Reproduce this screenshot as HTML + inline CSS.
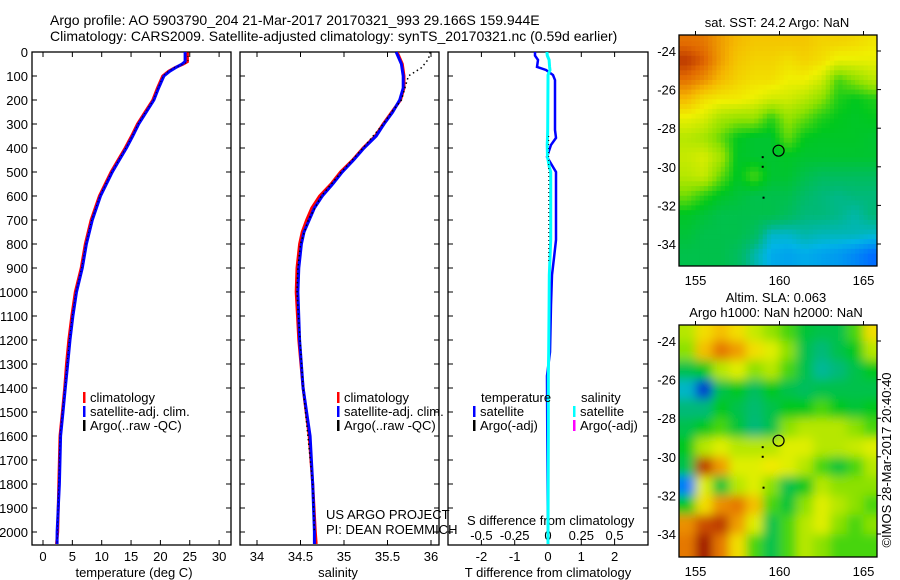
<!DOCTYPE html>
<html><head><meta charset="utf-8"><style>
body{margin:0;background:#fff;}
svg{display:block;font-family:"Liberation Sans",sans-serif;}
text{fill:#000;}
</style></head><body>
<svg id="fig" width="900" height="580" viewBox="0 0 900 580" xmlns="http://www.w3.org/2000/svg">
<defs>
<clipPath id="c1"><rect x="32" y="52" width="199" height="493"/></clipPath>
<clipPath id="c2"><rect x="240" y="52" width="199" height="493"/></clipPath>
<clipPath id="c3"><rect x="448" y="52" width="200" height="493"/></clipPath>
<clipPath id="m1"><rect x="679" y="35" width="198" height="231"/></clipPath>
<clipPath id="m2"><rect x="679" y="325" width="198" height="232"/></clipPath>
<filter id="blur" x="-5%" y="-5%" width="110%" height="110%"><feGaussianBlur stdDeviation="5"/></filter>
</defs>
<g id="root"></g>
</svg>
<script>
// ---------- data ----------
const depthT = [0,40,50,65,80,100,150,200,250,300,350,400,450,500,550,600,700,800,900,1000,1100,1200,1300,1400,1500,1600,1800,2000,2050];
const climT  = [24.6,24.6,23.9,22.5,21.4,20.4,19.5,18.7,17.4,16.1,15.1,14.0,12.8,11.6,10.6,9.6,8.2,7.2,6.5,5.5,4.9,4.4,4.0,3.7,3.3,2.9,2.7,2.5,2.3];
const satT   = [24.2,24.2,23.7,22.6,21.6,20.6,19.7,18.9,17.6,16.3,15.3,14.2,13.0,11.8,10.8,9.8,8.4,7.4,6.7,5.7,5.1,4.6,4.2,3.8,3.4,3.0,2.8,2.4,2.4];
const argoT  = [24.7,24.7,24.0,22.4,21.4,20.5,19.6,18.8,17.5,16.2,15.2,14.1,12.9,11.7,10.7,9.7,8.3,7.3,6.6,5.6,5.0,4.5,4.1,3.75,3.3,2.9,2.7,2.45,2.4];
const depthS = [0,50,100,150,200,250,300,350,400,450,500,550,600,650,700,750,800,900,1000,1200,1400,1600,1800,2000,2050];
const climS  = [35.61,35.67,35.69,35.69,35.65,35.55,35.45,35.36,35.22,35.10,34.96,34.85,34.72,34.63,34.57,34.52,34.49,34.46,34.45,34.48,34.53,34.60,34.64,34.67,34.68];
const satS   = [35.60,35.66,35.68,35.68,35.64,35.56,35.46,35.37,35.23,35.11,34.98,34.87,34.75,34.66,34.60,34.54,34.51,34.48,34.47,34.49,34.53,34.61,34.64,34.66,34.66];
const depthSA= [0,30,66,100,150,200,250,300,400,500,600,700,800,900,1000,1400,1800,2000];
const argoS  = [35.99,35.97,35.89,35.74,35.70,35.66,35.55,35.45,35.22,34.97,34.74,34.59,34.50,34.47,34.46,34.53,34.64,34.66];
const depthD = [0,15,33,62,75,96,117,325,358,387,437,479,500,783,858,929,1054,1250,1350,1600,2050];
const satTdiff = [-0.39,-0.39,-0.30,-0.33,-0.06,0.15,0.21,0.21,0.24,0.09,-0.03,0.15,0.24,0.24,0.18,0.12,0.09,0.06,-0.03,-0.02,0.0];
const satSdiff = [-0.008,-0.005,0.008,0.012,0.015,0.0,0.0,-0.002,-0.004,-0.006,-0.004,0.01,0.02,0.02,0.015,0.01,0.008,0.005,0.002,0.002,0.0];
const depthAD = [350,875];
const argoTdiff = [0.02,0.02];
const depthTicks = [0,100,200,300,400,500,600,700,800,900,1000,1100,1200,1300,1400,1500,1600,1700,1800,1900,2000];
const tempTicks = [0,5,10,15,20,25,30];
const salTicks = [34,34.5,35,35.5,36];
const salTickLabels = ["34","34.5","35","35.5","36"];
const tdTicks = [-2,-1,0,1,2];
const sdTicks = [-0.5,-0.25,0,0.25,0.5];
const sdTickLabels = ["-0.5","-0.25","0","0.25","0.5"];
const lonTicks = [155,160,165];
const latTicks = [-24,-26,-28,-30,-32,-34];
const sstGrid = [
[.86,.85,.8,.76,.74,.74,.74,.74,.72,.72,.71,.69],
[.92,.88,.8,.74,.72,.72,.7,.72,.7,.66,.66,.66],
[.86,.82,.76,.72,.7,.7,.67,.67,.63,.5,.55,.6],
[.76,.7,.68,.68,.66,.63,.63,.6,.55,.47,.45,.47],
[.66,.64,.58,.56,.56,.48,.56,.52,.47,.45,.44,.45],
[.6,.58,.52,.45,.43,.43,.52,.45,.44,.44,.44,.43],
[.62,.64,.58,.44,.43,.43,.44,.43,.43,.43,.43,.43],
[.6,.62,.52,.44,.5,.43,.43,.4,.38,.38,.38,.38],
[.53,.48,.44,.42,.4,.4,.4,.37,.35,.34,.35,.35],
[.44,.42,.4,.4,.4,.4,.38,.35,.35,.34,.32,.35],
[.42,.4,.4,.4,.38,.3,.3,.32,.31,.31,.31,.3],
[.4,.4,.4,.38,.32,.27,.26,.27,.26,.25,.23,.2]];
const slaGrid = [
[.6,.7,.75,.7,.62,.56,.5,.42,.4,.4,.5,.7],
[.55,.75,.85,.8,.7,.65,.55,.4,.35,.4,.45,.6],
[.4,.45,.6,.65,.55,.6,.5,.4,.33,.35,.4,.45],
[.3,.15,.4,.45,.38,.45,.4,.38,.4,.4,.4,.4],
[.35,.35,.45,.4,.36,.4,.45,.45,.5,.45,.42,.45],
[.4,.45,.5,.42,.35,.4,.55,.6,.6,.6,.55,.5],
[.45,.6,.65,.6,.6,.6,.65,.65,.6,.6,.62,.65],
[.4,.92,.8,.65,.65,.68,.65,.6,.5,.42,.5,.6],
[.22,.65,.42,.6,.65,.55,.4,.45,.6,.55,.55,.55],
[.45,.7,.82,.85,.75,.5,.42,.55,.65,.6,.55,.5],
[.82,.9,.92,.8,.65,.4,.5,.6,.65,.55,.5,.55],
[.85,.96,.85,.7,.5,.4,.5,.6,.55,.5,.5,.5]];
const argoLon = [159.944];
const argoLat = [-29.166];

// ---------- helpers ----------
const NS="http://www.w3.org/2000/svg";
const root=document.getElementById('root');
function el(tag,attrs,parent){const e=document.createElementNS(NS,tag);for(const k in attrs)e.setAttribute(k,attrs[k]);(parent||root).appendChild(e);return e;}
function txt(x,y,s,anchor,size){const t=el('text',{x:x,y:y,'font-size':size||13,'text-anchor':anchor||'start'});t.textContent=s;return t;}
const yD = d => 52 + d*0.24;
const xT = v => 43 + v*5.87;
const xS = v => 257 + (v-34)*87;
const xTD = v => 548 + v*33.3;
const xSD = v => 548 + v*133.2;
const xLon = v => 695.5 + (v-155)*16.8;
const yLat1 = v => 51 + (-24 - v)*19.3;
const yLat2 = v => 341 + (-24 - v)*19.3;
function pts(xs,ds,fx){return xs.map((v,i)=>fx(v).toFixed(1)+','+yD(ds[i]).toFixed(1)).join(' ');}
function cmap(v){
  const stops=[[0.1,[0,0,160]],[0.2,[0,110,255]],[0.28,[0,180,230]],[0.35,[0,185,120]],[0.45,[0,200,30]],[0.55,[140,225,0]],[0.67,[240,240,0]],[0.77,[245,180,0]],[0.87,[225,105,0]],[0.96,[160,20,0]]];
  if(v<=stops[0][0])return 'rgb('+stops[0][1]+')';
  for(let i=1;i<stops.length;i++){if(v<=stops[i][0]){const a=stops[i-1],b=stops[i],f=(v-a[0])/(b[0]-a[0]);return 'rgb('+a[1].map((c,j)=>Math.round(c+(b[1][j]-c)*f)).join(',')+')';}}
  return 'rgb('+stops[stops.length-1][1]+')';
}
function sample(grid,fr,fc){
  const r0=Math.max(0,Math.min(11,Math.floor(fr))),c0=Math.max(0,Math.min(11,Math.floor(fc)));
  const r1=Math.min(11,r0+1),c1=Math.min(11,c0+1);
  const a=Math.max(0,Math.min(1,fr-r0)),b=Math.max(0,Math.min(1,fc-c0));
  return grid[r0][c0]*(1-a)*(1-b)+grid[r0][c1]*(1-a)*b+grid[r1][c0]*a*(1-b)+grid[r1][c1]*a*b;
}

// ---------- titles ----------
let t;
t=txt(50,25,'Argo profile: AO 5903790_204 21-Mar-2017 20170321_993 29.166S 159.944E','start',14);

t=txt(50,41,'Climatology: CARS2009. Satellite-adjusted climatology: synTS_20170321.nc (0.59d earlier)','start',14);


// ---------- panel frames ----------
function frame(x,w,name){
  const r=el('rect',{x:x,y:52,width:w,height:493,fill:'none',stroke:'#000','stroke-width':1.3});
  
  
  depthTicks.forEach(d=>{el('line',{x1:x,x2:x+5,y1:yD(d),y2:yD(d),stroke:'#000'});el('line',{x1:x+w-5,x2:x+w,y1:yD(d),y2:yD(d),stroke:'#000'});});
}
frame(32,199,'temperature-panel');
frame(240,199,'salinity-panel');
frame(448,200,'difference-panel');
depthTicks.forEach(d=>{const l=txt(28,yD(d)+5,String(d),'end',13);

});
tempTicks.forEach(v=>{el('line',{x1:xT(v),x2:xT(v),y1:52,y2:57,stroke:'#000'});el('line',{x1:xT(v),x2:xT(v),y1:540,y2:545,stroke:'#000'});
const l=txt(xT(v),561,String(v),'middle',13);

});
salTicks.forEach((v,i)=>{el('line',{x1:xS(v),x2:xS(v),y1:52,y2:57,stroke:'#000'});el('line',{x1:xS(v),x2:xS(v),y1:540,y2:545,stroke:'#000'});
const l=txt(xS(v),561,salTickLabels[i],'middle',13);

});
tdTicks.forEach(v=>{if(v!==0){el('line',{x1:xTD(v),x2:xTD(v),y1:52,y2:57,stroke:'#000'});el('line',{x1:xTD(v),x2:xTD(v),y1:540,y2:545,stroke:'#000'});}
const l=txt(xTD(v),561,String(v),'middle',13);

});
sdTicks.forEach((v,i)=>{const l=txt(xSD(v),540,sdTickLabels[i],'middle',13);

});
t=txt(134,577,'temperature (deg C)','middle',13);
t=txt(338,577,'salinity','middle',13);
t=txt(548,577,'T difference from climatology','middle',13);
t=txt(467,525,'S difference from climatology','start',13);

// ---------- series ----------
const g1=el('g',{'clip-path':'url(#c1)'});
let p;
p=el('polyline',{points:pts(climT,depthT,xT),fill:'none',stroke:'#f00','stroke-width':3},g1);

p=el('polyline',{points:pts(satT,depthT,xT),fill:'none',stroke:'#0000ff','stroke-width':3},g1);

p=el('polyline',{points:pts(argoT,depthT,xT),fill:'none',stroke:'#000','stroke-width':1,'stroke-dasharray':'1 3'},g1);

const g2=el('g',{'clip-path':'url(#c2)'});
p=el('polyline',{points:pts(climS,depthS,xS),fill:'none',stroke:'#f00','stroke-width':3},g2);

p=el('polyline',{points:pts(satS,depthS,xS),fill:'none',stroke:'#0000ff','stroke-width':3},g2);

p=el('polyline',{points:pts(argoS,depthSA,xS),fill:'none',stroke:'#000','stroke-width':1.5,'stroke-dasharray':'1.5 3'},g2);

const g3=el('g',{'clip-path':'url(#c3)'});
p=el('polyline',{points:pts(satTdiff,depthD,xTD),fill:'none',stroke:'#0000ff','stroke-width':2.5},g3);

p=el('polyline',{points:pts(satSdiff,depthD,xSD),fill:'none',stroke:'#00ffff','stroke-width':3},g3);

p=el('polyline',{points:pts(argoTdiff,depthAD,xTD),fill:'none',stroke:'#000','stroke-width':1,'stroke-dasharray':'1 3'},g3);


// ---------- legends ----------
function leg(x,y,color,label,name){
  const g=el('g',{});
  
  
  el('rect',{x:x,y:y-10,width:2.5,height:11,fill:color},g);
  const tt=el('text',{x:x+7,y:y,'font-size':13},g);tt.textContent=label;
}
leg(83,402,'#f00','climatology','legend-temp-climatology');
leg(83,416,'#00f','satellite-adj. clim.','legend-temp-satellite');
leg(83,430,'#000','Argo(..raw -QC)','legend-temp-argo');
leg(337,402,'#f00','climatology','legend-sal-climatology');
leg(337,416,'#00f','satellite-adj. clim.','legend-sal-satellite');
leg(337,430,'#000','Argo(..raw -QC)','legend-sal-argo');
t=txt(481,402,'temperature','start',13);
t=txt(581,402,'salinity','start',13);
leg(473,416,'#00f','satellite','legend-tdiff-satellite');
leg(473,430,'#000','Argo(-adj)','legend-tdiff-argo');
leg(573,416,'#00ffff','satellite','legend-sdiff-satellite');
leg(573,430,'#ff00ff','Argo(-adj)','legend-sdiff-argo');
t=txt(326,519,'US ARGO PROJECT','start',13);
t=txt(326,534,'PI: DEAN ROEMMICH','start',13);

// ---------- maps ----------
function drawMap(grid,yLat,clip,blur,name,top,bottom){
  const g=el('g',{'clip-path':'url('+clip+')'});
  
  
  const inner=el('g',blur?{filter:'url(#blur)'}:{},g);
  if(blur){
    grid.forEach((row,r)=>row.forEach((v,c)=>{
      const lon0=154+c, lat0=-23-r;
      const cell=el('rect',{x:xLon(lon0)-(c===0?20:0),y:yLat(lat0)-(r===0?20:0),width:16.8+(c===0||c===11?20:0)+0.5,height:19.3+(r===0||r===11?20:0)+0.5,fill:cmap(v)},inner);
      
    }));
  } else {
    const n=4;
    for(let r=-1;r<12*n+2;r++)for(let c=-1;c<12*n+1;c++){
      const v=sample(grid,(r+0.5)/n-0.5,(c+0.5)/n-0.5);
      const cell=el('rect',{x:xLon(154+c/n),y:yLat(-23-r/n),width:16.8/n+0.4,height:19.3/n+0.4,fill:cmap(v)},inner);
      
    }
  }
  el('rect',{x:679,y:top,width:198,height:bottom-top,fill:'none',stroke:'#000','stroke-width':1.3});
  lonTicks.forEach(v=>{el('line',{x1:xLon(v),x2:xLon(v),y1:top-4,y2:top,stroke:'#000'});});
  latTicks.forEach(v=>{el('line',{x1:877,x2:881,y1:yLat(v),y2:yLat(v),stroke:'#000'});
    const l=txt(676,yLat(v)+5,String(v),'end',13);
    
    });
  lonTicks.forEach(v=>{const l=txt(xLon(v),bottom+19,String(v),'middle',13);
    
    });
  argoLon.forEach((lo,i)=>{const c=el('circle',{cx:xLon(lo),cy:yLat(argoLat[i]),r:5.5,fill:'none',stroke:'#000','stroke-width':1.2});
    
    });
  [[159,-29.5],[159,-30],[159.05,-31.6]].forEach(q=>el('rect',{x:xLon(q[0])-1,y:yLat(q[1])-1,width:2,height:2,fill:'#000'}));
}
drawMap(sstGrid,yLat1,'#m1',false,'sst-map',35,266);
drawMap(slaGrid,yLat2,'#m2',true,'sla-map',325,557);
t=txt(777,27,'sat. SST: 24.2 Argo: NaN','middle',13);
t=txt(776,302,'Altim. SLA: 0.063','middle',13);
t=txt(776,317,'Argo h1000: NaN h2000: NaN','middle',13);
t=el('text',{x:0,y:0,'font-size':13,'text-anchor':'middle',transform:'translate(891,460) rotate(-90)'});
t.textContent='©IMOS 28-Mar-2017 20:40:40';


</script>
</body></html>
